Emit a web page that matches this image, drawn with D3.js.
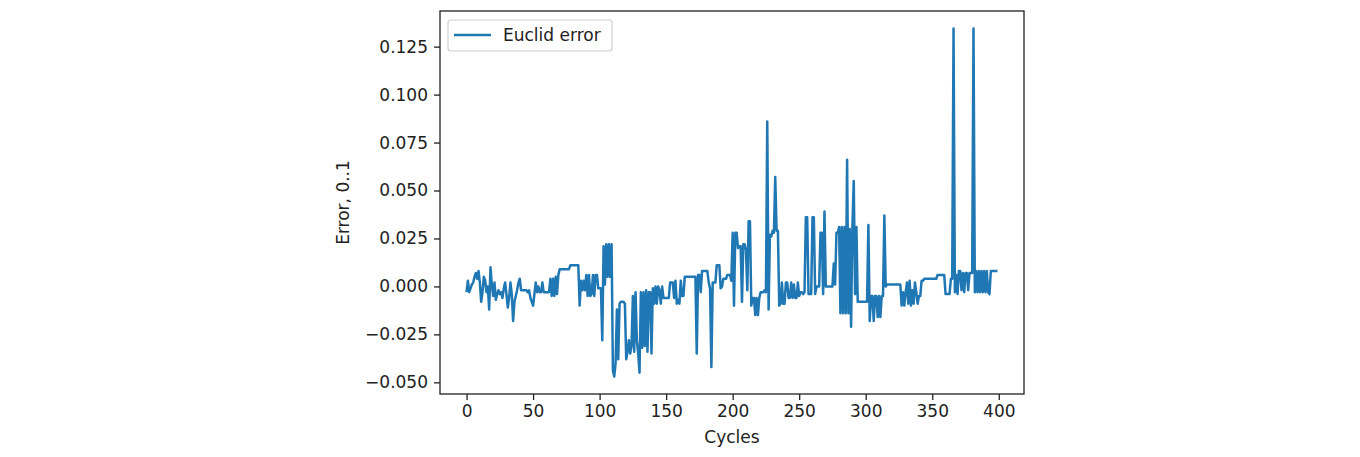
<!DOCTYPE html>
<html>
<head>
<meta charset="utf-8">
<script src="https://cdn.jsdelivr.net/npm/d3@7"></script>
<style>
  html, body { margin: 0; padding: 0; background: #fff; }
  svg text { font-family: "DejaVu Sans", sans-serif; fill: #222; }
</style>
</head>
<body>
<svg id="chart" width="1360" height="457"></svg>
<script>
// Euclid error per cycle
const errors = [
  -0.003, 0.003, -0.003, -0.001, 0.001, 0.002, 0.005, 0.007, 0.004, 0.008,
  0.002, -0.008, -0.003, 0.005, 0.003, -0.003, 0.000, -0.012, 0.010, 0.001,
  -0.005, 0.002, -0.007, -0.004, -0.002, -0.004, -0.003, -0.006, -0.001, 0.002,
  -0.004, -0.011, -0.006, 0.002, -0.004, -0.018, -0.008, -0.005, -0.002, 0.002,
  0.004, -0.002, -0.002, -0.002, -0.002, -0.002, -0.003, -0.002, -0.006, -0.008,
  -0.010, -0.004, 0.002, -0.003, 0.000, -0.003, -0.003, 0.002, -0.003, -0.003,
  -0.003, -0.003, -0.003, 0.004, -0.005, 0.004, -0.005, 0.005, -0.004, 0.006,
  0.009, 0.009, 0.009, 0.009, 0.009, 0.009, 0.009, 0.009, 0.011, 0.011,
  0.011, 0.011, 0.011, 0.011, 0.011, -0.010, 0.003, -0.002, 0.003, -0.002,
  0.006, -0.005, 0.006, -0.005, -0.004, 0.006, -0.005, 0.006, 0.006, -0.001,
  -0.001, -0.001, -0.028, 0.021, 0.001, 0.022, 0.005, 0.022, 0.005, 0.022,
  -0.044, -0.047, -0.040, -0.012, -0.038, -0.009, -0.008, -0.008, -0.008, -0.009,
  -0.038, -0.034, -0.028, -0.035, -0.031, -0.005, -0.034, -0.003, -0.028, -0.035,
  -0.045, -0.003, -0.032, -0.003, -0.031, -0.002, -0.034, -0.003, -0.003, -0.035,
  -0.001, -0.009, 0.000, -0.009, 0.000, -0.002, -0.009, 0.000, -0.006, -0.006,
  -0.006, -0.006, -0.006, 0.002, 0.002, 0.002, -0.006, 0.003, -0.009, -0.007,
  -0.009, 0.003, -0.005, -0.005, 0.005, 0.005, 0.005, 0.005, 0.005, 0.005,
  0.005, 0.005, 0.005, -0.035, 0.006, 0.006, -0.003, 0.008, 0.008, 0.008,
  0.008, 0.008, 0.002, -0.001, -0.042, 0.002, 0.002, 0.002, 0.011, 0.011,
  0.011, -0.001, 0.000, 0.004, 0.004, 0.004, 0.006, 0.006, 0.006, 0.003,
  0.028, -0.010, 0.028, 0.028, 0.020, 0.021, 0.021, -0.008, 0.022, 0.022,
  0.019, -0.002, 0.034, 0.034, -0.010, -0.006, -0.006, -0.015, -0.006, -0.015,
  -0.006, -0.003, -0.003, -0.003, -0.002, -0.003, 0.086, -0.012, 0.027, 0.026,
  0.029, 0.028, 0.057, 0.029, 0.029, -0.010, -0.009, 0.002, -0.009, -0.009,
  0.002, 0.002, -0.006, -0.006, 0.002, -0.006, 0.001, -0.006, -0.006, 0.002,
  -0.005, -0.003, -0.003, -0.004, -0.003, 0.036, 0.036, -0.004, -0.004, -0.004,
  0.036, 0.036, -0.004, 0.000, 0.000, 0.000, 0.028, 0.028, -0.004, 0.039,
  0.000, 0.000, 0.000, 0.000, 0.000, 0.000, 0.012, 0.001, 0.028, 0.028,
  0.031, -0.014, 0.031, -0.014, 0.031, -0.014, 0.066, -0.014, 0.030, -0.021,
  0.031, 0.055, -0.004, 0.031, -0.008, -0.008, -0.008, -0.008, -0.008, -0.008,
  -0.008, -0.008, 0.032, -0.018, -0.005, -0.005, -0.018, -0.005, -0.005, -0.016,
  -0.005, -0.016, -0.005, -0.005, 0.037, 0.000, 0.001, 0.001, 0.001, 0.001,
  0.001, 0.001, 0.001, 0.001, 0.001, 0.001, 0.001, -0.010, -0.003, -0.010,
  -0.003, 0.002, -0.009, 0.003, -0.010, -0.002, -0.009, 0.002, -0.003, -0.009,
  -0.005, -0.005, 0.003, 0.003, 0.004, 0.004, 0.004, 0.004, 0.004, 0.004,
  0.004, 0.004, 0.004, 0.004, 0.006, 0.006, 0.006, 0.006, 0.006, 0.006,
  -0.004, -0.004, -0.004, -0.004, 0.004, 0.004, 0.1345, -0.003, 0.006, -0.004,
  0.008, 0.008, -0.002, 0.007, -0.003, 0.007, 0.007, -0.002, 0.007, 0.007,
  0.007, 0.1345, -0.003, 0.008, -0.003, 0.008, -0.003, 0.008, -0.003, 0.008,
  -0.003, 0.008, -0.003, -0.004, 0.008, 0.008, 0.008, 0.008, 0.008, 0.008
];
const cycles = d3.range(errors.length);

const xTicks = [0, 50, 100, 150, 200, 250, 300, 350, 400];
const yTicks = [-0.05, -0.025, 0, 0.025, 0.05, 0.075, 0.1, 0.125];

const seriesName = "Euclid error";
const xTitle = "Cycles";
const yTitle = "Error, 0..1";

const svg = d3.select("#chart");
const box = { left: 440, top: 11, right: 1024, bottom: 394 };
const lineColor = "#1f77b4";

// matplotlib style 5% margins around the data
const xExt = d3.extent(cycles);
const yExt = d3.extent(errors);
const xPad = (xExt[1] - xExt[0]) * 0.05;
const yPad = (yExt[1] - yExt[0]) * 0.05;

const x = d3.scaleLinear()
    .domain([xExt[0] - xPad, xExt[1] + xPad])
    .range([box.left, box.right]);
const y = d3.scaleLinear()
    .domain([yExt[0] - yPad, yExt[1] + yPad])
    .range([box.bottom, box.top]);

svg.append("rect")
    .attr("width", 1360).attr("height", 457)
    .attr("fill", "#fff");

const line = d3.line()
    .x((d, i) => x(cycles[i]))
    .y(d => y(d));

svg.append("path")
    .datum(errors)
    .attr("fill", "none")
    .attr("stroke", lineColor)
    .attr("stroke-width", 2.5)
    .attr("stroke-linejoin", "round")
    .attr("d", line);

const fmtY = v => d3.format(".3f")(v).replace("-", "\u2212");

const xAxis = svg.append("g")
    .attr("transform", `translate(0,${box.bottom})`)
    .call(d3.axisBottom(x).tickValues(xTicks).tickSize(6).tickPadding(5).tickFormat(d3.format("d")));

const yAxis = svg.append("g")
    .attr("transform", `translate(${box.left},0)`)
    .call(d3.axisLeft(y).tickValues(yTicks).tickSize(6).tickPadding(6).tickFormat(fmtY));

[xAxis, yAxis].forEach(g => {
    g.select(".domain").remove();
    g.selectAll(".tick line").attr("stroke", "#222").attr("stroke-width", 1.3);
    g.selectAll(".tick text")
        .attr("font-size", 17)
        .attr("font-family", "DejaVu Sans, sans-serif")
        .attr("fill", "#222");
});

// frame
svg.append("rect")
    .attr("x", box.left).attr("y", box.top)
    .attr("width", box.right - box.left)
    .attr("height", box.bottom - box.top)
    .attr("fill", "none")
    .attr("stroke", "#222")
    .attr("stroke-width", 1.3);

svg.append("text")
    .attr("x", (box.left + box.right) / 2)
    .attr("y", 443)
    .attr("text-anchor", "middle")
    .attr("font-size", 17)
    .text(xTitle);

svg.append("text")
    .attr("transform", `translate(349,${(box.top + box.bottom) / 2}) rotate(-90)`)
    .attr("text-anchor", "middle")
    .attr("font-size", 17)
    .text(yTitle);

// legend
const legend = svg.append("g");
legend.append("rect")
    .attr("x", 448).attr("y", 20)
    .attr("width", 164).attr("height", 31)
    .attr("rx", 3)
    .attr("fill", "#fff")
    .attr("fill-opacity", 0.8)
    .attr("stroke", "#d0d0d0")
    .attr("stroke-width", 1.2);
legend.append("line")
    .attr("x1", 454).attr("x2", 491)
    .attr("y1", 35).attr("y2", 35)
    .attr("stroke", lineColor)
    .attr("stroke-width", 2.5);
legend.append("text")
    .attr("x", 503).attr("y", 41)
    .attr("font-size", 17)
    .text(seriesName);
</script>
</body>
</html>
